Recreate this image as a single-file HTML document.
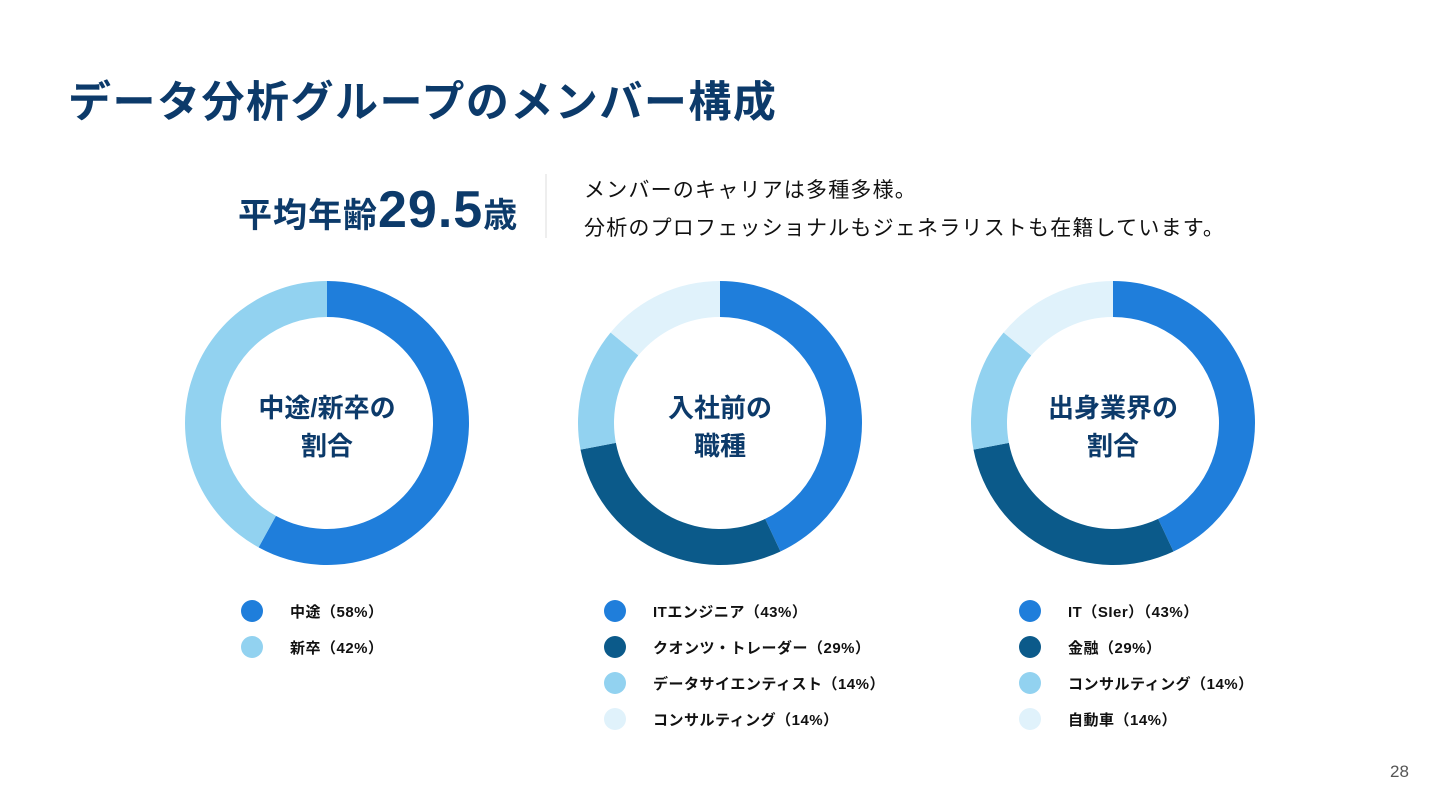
<!DOCTYPE html>
<html><head><meta charset="utf-8">
<style>
body{margin:0;width:1440px;height:810px;background:#fff;font-family:"Liberation Sans","Noto Sans CJK JP",sans-serif;position:relative;overflow:hidden}
.abs{position:absolute;white-space:nowrap}
#title{left:68px;top:68px;font-size:43px;font-weight:700;color:#0c3a6a;letter-spacing:1.5px}
#age{left:238px;top:180px;font-size:34px;font-weight:700;color:#0c3a6a;letter-spacing:1px}
#age b{font-size:52px;font-family:"Liberation Sans",sans-serif}
#sep{left:545px;top:174px;width:2px;height:64px;background:#eee}
.desc{left:584px;font-size:21px;color:#111;letter-spacing:1.2px}
.center{position:absolute;text-align:center;font-size:26px;font-weight:700;color:#0c3a6a;line-height:38px;width:240px}
.leg{position:absolute;font-size:15px;color:#111;font-weight:700;letter-spacing:0.5px}
.dot{position:absolute;width:22px;height:22px;border-radius:50%}
#pg{left:1390px;top:762px;font-size:17px;color:#555}
</style></head><body>
<div class="abs" id="title">データ分析グループのメンバー構成</div>
<div class="abs" id="age">平均年齢<b>29.5</b>歳</div>
<div class="abs" id="sep"></div>
<div class="abs desc" style="top:174px">メンバーのキャリアは多種多様。</div>
<div class="abs desc" style="top:212px">分析のプロフェッショナルもジェネラリストも在籍しています。</div>
<svg id="chart" width="1440" height="810" style="position:absolute;left:0;top:0"></svg>
<div id="overlay"></div>
<div class="abs" id="pg">28</div>
<script>
const titles1=["中途/新卒の","割合"];
const titles2=["入社前の","職種"];
const titles3=["出身業界の","割合"];
const labels1=["中途（58%）","新卒（42%）"];
const values1=[58,42];
const labels2=["ITエンジニア（43%）","クオンツ・トレーダー（29%）","データサイエンティスト（14%）","コンサルティング（14%）"];
const values2=[43,29,14,14];
const labels3=["IT（SIer）（43%）","金融（29%）","コンサルティング（14%）","自動車（14%）"];
const values3=[43,29,14,14];
const colors1=["#1f7edb","#92d2f0"];
const colors4=["#1f7edb","#0b5a8a","#92d2f0","#e0f2fb"];
const svg=document.getElementById('chart');
const ov=document.getElementById('overlay');
const NS="http://www.w3.org/2000/svg";
const R=142,r=106;
function pt(cx,cy,rad,a){return [cx+rad*Math.sin(a),cy-rad*Math.cos(a)];}
function donut(cx,cy,vals,cols,labels,title,legX,idx){
  const tot=vals.reduce((a,b)=>a+b,0);let a0=0;
  vals.forEach((v,i)=>{
    const a1=a0+v/tot*2*Math.PI;
    const [x1,y1]=pt(cx,cy,R,a0),[x2,y2]=pt(cx,cy,R,a1),[x3,y3]=pt(cx,cy,r,a1),[x4,y4]=pt(cx,cy,r,a0);
    const lg=(a1-a0)>Math.PI?1:0;
    const p=document.createElementNS(NS,'path');
    p.setAttribute('d',`M${x1},${y1}A${R},${R} 0 ${lg} 1 ${x2},${y2}L${x3},${y3}A${r},${r} 0 ${lg} 0 ${x4},${y4}Z`);
    p.setAttribute('fill',cols[i]);
    
    
    svg.appendChild(p);a0=a1;
    const d=document.createElement('div');d.className='dot';
    d.style.left=(legX-11)+'px';d.style.top=(611+36*i-11)+'px';d.style.background=cols[i];
    
    
    ov.appendChild(d);
    const t=document.createElement('div');t.className='leg';t.textContent=labels[i];
    t.style.left=(legX+38)+'px';t.style.top=(611+36*i-10)+'px';
    
    
    ov.appendChild(t);
  });
  const c=document.createElement('div');c.className='center';
  c.innerHTML=title[0]+'<br>'+title[1];
  c.style.left=(cx-120)+'px';c.style.top=(cy-34)+'px';
  
  
  ov.appendChild(c);
}
donut(327,423,values1,colors1,labels1,titles1,252,1);
donut(720,423,values2,colors4,labels2,titles2,615,2);
donut(1113,423,values3,colors4,labels3,titles3,1030,3);
</script>
</body></html>
